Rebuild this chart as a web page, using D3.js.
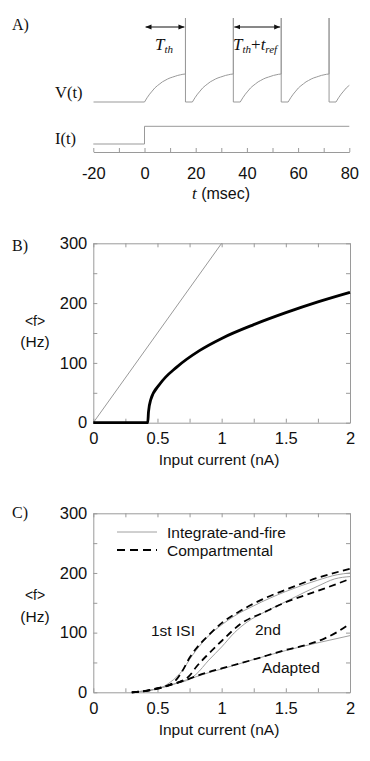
<!DOCTYPE html>
<html lang="en">
<head>
<meta charset="UTF-8">
<title>Integrate-and-fire firing rate</title>
<script src="https://d3js.org/d3.v7.min.js"></script>
<style>
  body { margin: 0; background: #fff; }
  .sans { font-family: "Liberation Sans", Arial, Helvetica, sans-serif; fill: #111; }
  .serif { font-family: "Liberation Serif", "Times New Roman", serif; fill: #111; }
  .axis path, .axis line { stroke: #9a9a9a; stroke-width: 1; fill: none; }
  .axis text { font-family: "Liberation Sans", Arial, Helvetica, sans-serif; font-size: 16.5px; fill: #111; }
</style>
</head>
<body>
<div id="chart"></div>
<script>
// ---- panel A: voltage trace and injected current ----
const tTicks = [-20, -10, 0, 10, 20, 30, 40, 50, 60, 70, 80];
const tLabels = [-20, 0, 20, 40, 60, 80];
const spikeTimes = [16, 34.7, 53.4, 72.1];
const tRef = 2.7;
// time since reset (msec) vs voltage relative to threshold
const chargeCurve = [[0, 0], [1, 0.15], [2, 0.28], [3, 0.39], [4, 0.5], [5, 0.58], [6, 0.65],
  [7, 0.72], [8, 0.77], [9, 0.82], [10, 0.86], [11, 0.89], [12, 0.92], [13, 0.95],
  [14, 0.97], [15, 0.99], [16, 1]];
const spikePeak = 3;
const currentTrace = [[-20, 0], [0, 0], [0, 1], [80, 1]];
const intervals = [[0, 16], [34.7, 53.4]];

// ---- panel B: f-I curves ----
const iTicks = [0, 0.25, 0.5, 0.75, 1, 1.25, 1.5, 1.75, 2];
const iLabels = [0, 0.5, 1, 1.5, 2];
const fTicks = [0, 50, 100, 150, 200, 250, 300];
const fLabels = [0, 100, 200, 300];
const noRefractory = [[0, 0], [1, 300]];
const withRefractory = [[0, 0], [0.424, 0], [0.43, 18], [0.447, 38], [0.52, 65], [0.65, 93],
  [0.83, 121], [1.0, 141], [1.25, 164], [1.5, 184], [1.75, 202], [2.0, 218]];

// ---- panel C: first ISI, second ISI and adapted rates ----
const ifFirst = [[0.3, 0], [0.4, 2], [0.5, 6], [0.55, 10], [0.6, 17], [0.65, 26], [0.7, 38],
  [0.75, 55], [0.8, 70], [0.9, 95], [1.0, 113], [1.1, 128], [1.25, 145], [1.5, 169],
  [1.75, 188], [1.9, 197], [2.0, 200]];
const compFirst = [[0.3, 0], [0.4, 2], [0.5, 7], [0.6, 13], [0.65, 22], [0.7, 38], [0.75, 58],
  [0.8, 73], [0.9, 96], [1.0, 116], [1.15, 137], [1.33, 157], [1.5, 172], [1.75, 192], [2.0, 207]];
const ifSecond = [[0.3, 0], [0.5, 6], [0.65, 15], [0.75, 22], [0.8, 30], [0.9, 54], [1.0, 76],
  [1.1, 100], [1.2, 118], [1.33, 134], [1.5, 152], [1.65, 168], [1.75, 178], [1.88, 190], [2.0, 194]];
const compSecond = [[0.3, 0], [0.5, 6], [0.6, 13], [0.7, 20], [0.75, 28], [0.8, 42], [0.9, 65],
  [1.0, 86], [1.15, 115], [1.33, 134], [1.5, 151], [1.75, 170], [2.0, 190]];
const ifAdapted = [[0.3, 0], [0.5, 6], [0.6, 12], [0.7, 19], [0.8, 26], [0.9, 33], [1.0, 39],
  [1.25, 55], [1.5, 70], [1.75, 83], [2.0, 95]];
const compAdapted = [[0.3, 0], [0.5, 6], [0.6, 12], [0.7, 19], [0.8, 27], [0.9, 34], [1.0, 40],
  [1.25, 55], [1.5, 71], [1.65, 79], [1.8, 90], [1.9, 101], [2.0, 115]];

const svg = d3.select("#chart").append("svg")
  .attr("width", 370).attr("height", 761);

const defs = svg.append("defs");
["start", "end"].forEach(k => {
  defs.append("marker")
    .attr("id", "arrow-" + k)
    .attr("viewBox", "0 0 10 10")
    .attr("refX", k === "end" ? 10 : 0).attr("refY", 5)
    .attr("markerWidth", 6).attr("markerHeight", 6)
    .attr("markerUnits", "userSpaceOnUse")
    .attr("orient", "auto")
    .append("path")
    .attr("d", k === "end" ? "M0,1L10,5L0,9Z" : "M10,1L0,5L10,9Z")
    .attr("fill", "#111");
});

// ================= A =================
const xA = d3.scaleLinear().domain([-20, 80]).range([93.3, 349.3]);
const vA = d3.scaleLinear().domain([0, 1]).range([102, 74]);
const iA = d3.scaleLinear().domain([0, 1]).range([144, 126.3]);

defs.append("clipPath").attr("id", "clipA")
  .append("rect").attr("x", xA(-20)).attr("y", 0).attr("width", xA(80) - xA(-20)).attr("height", 200);

// assemble the voltage trace from the reset/charge pieces
let vTrace = [[-20, 0]];
let starts = [0].concat(spikeTimes.map(s => s + tRef));
starts.forEach((s, k) => {
  chargeCurve.forEach(p => vTrace.push([s + p[0], p[1]]));
  if (k < spikeTimes.length) {
    const sp = spikeTimes[k];
    vTrace.push([sp, spikePeak], [sp, 0]);
  }
});

const lineA = d3.line().x(d => xA(d[0])).y(d => vA(d[1]));
svg.append("path")
  .datum(vTrace)
  .attr("clip-path", "url(#clipA)")
  .attr("d", lineA)
  .attr("fill", "none").attr("stroke", "#999").attr("stroke-width", 1);

svg.append("path")
  .datum(currentTrace)
  .attr("d", d3.line().x(d => xA(d[0])).y(d => iA(d[1])))
  .attr("fill", "none").attr("stroke", "#999").attr("stroke-width", 1);

// time axis
svg.append("g").attr("class", "axis")
  .attr("transform", "translate(0,152)")
  .call(d3.axisBottom(xA).tickValues(tTicks).tickSizeInner(-4).tickSizeOuter(0)
    .tickPadding(15).tickFormat(d => tLabels.includes(d) ? d : ""))
  .selectAll(".tick text").style("font-size", "16.5px");

svg.selectAll(".interval")
  .data(intervals).enter().append("line")
  .attr("x1", d => xA(d[0]) + 1).attr("x2", d => xA(d[1]) - 1)
  .attr("y1", 27).attr("y2", 27)
  .attr("stroke", "#111").attr("stroke-width", 1)
  .attr("marker-start", "url(#arrow-start)")
  .attr("marker-end", "url(#arrow-end)");

let t1 = svg.append("text").attr("class", "serif").attr("x", 155).attr("y", 50)
  .style("font-size", "17px").style("font-style", "italic");
t1.append("tspan").text("T");
t1.append("tspan").attr("dy", 3).style("font-size", "11px").text("th");

let t2 = svg.append("text").attr("class", "serif").attr("x", 233).attr("y", 50)
  .style("font-size", "17px").style("font-style", "italic");
t2.append("tspan").text("T");
t2.append("tspan").attr("dy", 3).style("font-size", "11px").text("th");
t2.append("tspan").attr("dy", -3).style("font-style", "normal").text("+");
t2.append("tspan").text("t");
t2.append("tspan").attr("dy", 3).style("font-size", "11px").text("ref");

svg.append("text").attr("class", "serif").attr("x", 12).attr("y", 30)
  .style("font-size", "16px").text("A)");
svg.append("text").attr("class", "serif").attr("x", 55).attr("y", 98)
  .style("font-size", "16.5px").text("V(t)");
svg.append("text").attr("class", "serif").attr("x", 55).attr("y", 144)
  .style("font-size", "16.5px").text("I(t)");

let tl = svg.append("text").attr("class", "sans").attr("x", 221).attr("y", 199)
  .attr("text-anchor", "middle").style("font-size", "16px");
tl.append("tspan").attr("class", "serif").style("font-style", "italic").style("font-size", "17px").text("t");
tl.append("tspan").text(" (msec)");

// ================= B and C frames =================
const xI = d3.scaleLinear().domain([0, 2]).range([93.3, 350]);

function frame(y, titleY, fLabelY) {
  const g = svg.append("g");
  const bottom = y.range()[0], top = y.range()[1];
  g.append("g").attr("class", "axis").attr("transform", `translate(0,${bottom})`)
    .call(d3.axisBottom(xI).tickValues(iTicks).tickSizeInner(-4).tickSizeOuter(0)
      .tickPadding(10).tickFormat(d => iLabels.includes(d) ? String(d) : ""));
  g.append("g").attr("class", "axis").attr("transform", `translate(0,${top})`)
    .call(d3.axisTop(xI).tickValues(iTicks).tickSizeInner(-4).tickSizeOuter(0).tickFormat(""));
  g.append("g").attr("class", "axis").attr("transform", `translate(${xI.range()[0]},0)`)
    .call(d3.axisLeft(y).tickValues(fTicks).tickSizeInner(-4).tickSizeOuter(0)
      .tickPadding(6).tickFormat(d => fLabels.includes(d) ? String(d) : ""));
  g.append("g").attr("class", "axis").attr("transform", `translate(${xI.range()[1]},0)`)
    .call(d3.axisRight(y).tickValues(fTicks).tickSizeInner(-4).tickSizeOuter(0).tickFormat(""));
  g.append("text").attr("class", "sans").attr("x", 219).attr("y", titleY)
    .attr("text-anchor", "middle").style("font-size", "15.5px").text("Input current (nA)");
  g.append("text").attr("class", "sans").attr("x", 35).attr("y", fLabelY[0])
    .attr("text-anchor", "middle").style("font-size", "14px").text("<f>");
  g.append("text").attr("class", "sans").attr("x", 35).attr("y", fLabelY[1])
    .attr("text-anchor", "middle").style("font-size", "15.5px").text("(Hz)");
  return g;
}

// ================= B =================
const yB = d3.scaleLinear().domain([0, 300]).range([422.7, 243.3]);
frame(yB, 465, [326, 347]);
svg.append("text").attr("class", "serif").attr("x", 12).attr("y", 251)
  .style("font-size", "16px").text("B)");

const lineB = d3.line().x(d => xI(d[0])).y(d => yB(d[1]));
svg.append("path").datum(noRefractory).attr("d", lineB)
  .attr("fill", "none").attr("stroke", "#999").attr("stroke-width", 1);
svg.append("path").datum(withRefractory).attr("d", lineB.curve(d3.curveMonotoneX))
  .attr("fill", "none").attr("stroke", "#000").attr("stroke-width", 2.8);

// ================= C =================
const yC = d3.scaleLinear().domain([0, 300]).range([692.3, 513.3]);
frame(yC, 735, [600, 622]);
svg.append("text").attr("class", "serif").attr("x", 12).attr("y", 518)
  .style("font-size", "16px").text("C)");

const lineC = d3.line().x(d => xI(d[0])).y(d => yC(d[1])).curve(d3.curveMonotoneX);
[ifFirst, ifSecond, ifAdapted].forEach(s => {
  svg.append("path").datum(s).attr("d", lineC)
    .attr("fill", "none").attr("stroke", "#a0a0a0").attr("stroke-width", 1);
});
[compFirst, compSecond, compAdapted].forEach(s => {
  svg.append("path").datum(s).attr("d", lineC)
    .attr("fill", "none").attr("stroke", "#000").attr("stroke-width", 1.8)
    .attr("stroke-dasharray", "7,4.5");
});

// legend
const legend = [
  { name: "Integrate-and-fire", color: "#a0a0a0", width: 1, dash: null, y: 532 },
  { name: "Compartmental", color: "#000", width: 1.8, dash: "8,5", y: 550 }
];
legend.forEach(d => {
  svg.append("line").attr("x1", 117).attr("x2", 157).attr("y1", d.y).attr("y2", d.y)
    .attr("stroke", d.color).attr("stroke-width", d.width)
    .attr("stroke-dasharray", d.dash);
  svg.append("text").attr("class", "sans").attr("x", 167).attr("y", d.y + 5.5)
    .style("font-size", "15.5px").text(d.name);
});

svg.append("text").attr("class", "sans").attr("x", 151).attr("y", 636)
  .style("font-size", "15.5px").text("1st ISI");
svg.append("text").attr("class", "sans").attr("x", 255).attr("y", 635)
  .style("font-size", "15.5px").text("2nd");
svg.append("text").attr("class", "sans").attr("x", 262).attr("y", 673)
  .style("font-size", "15.5px").text("Adapted");
</script>
</body>
</html>
